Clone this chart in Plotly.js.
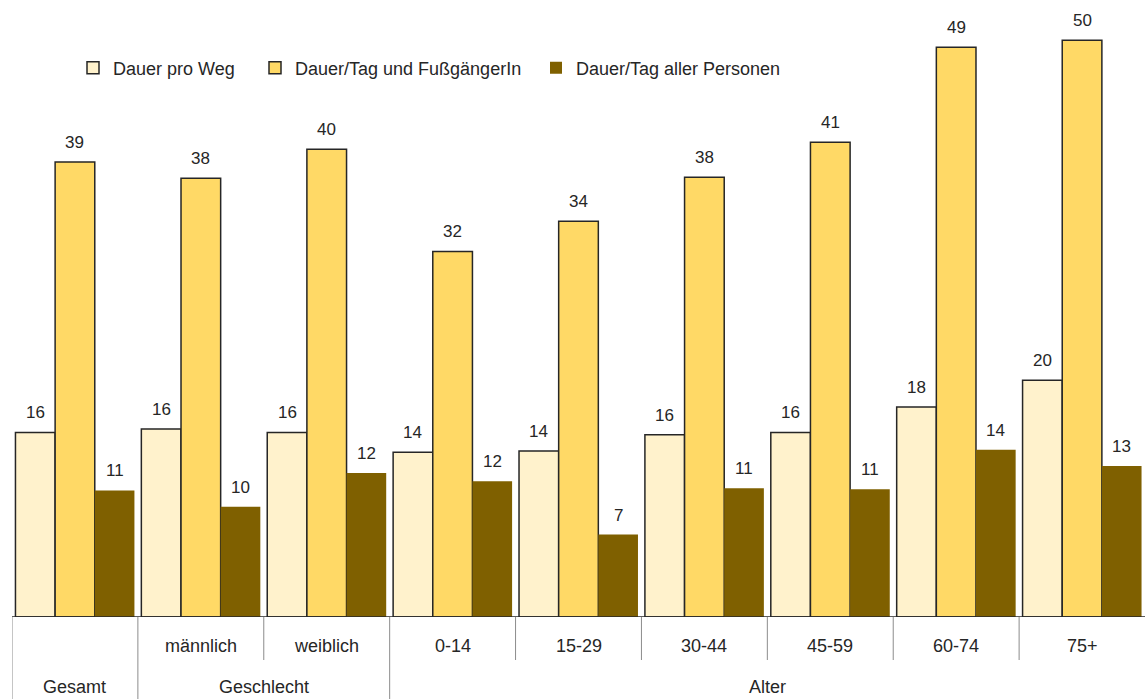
<!DOCTYPE html>
<html>
<head>
<meta charset="utf-8">
<script src="https://cdn.plot.ly/plotly-3.0.1.min.js"></script>
<style>html,body{margin:0;padding:0;background:#fff;}#chart{width:1145px;height:699px;}</style>
</head>
<body>
<div id="chart"></div>
<script>
// ---- data ----
const categories = ["Gesamt", "männlich", "weiblich", "0-14", "15-29", "30-44", "45-59", "60-74", "75+"];
const groupLabels = ["Gesamt", "Geschlecht", "Alter"];
const groupSpans = [[0, 0], [1, 2], [3, 8]];
const subLabels = ["", "männlich", "weiblich", "0-14", "15-29", "30-44", "45-59", "60-74", "75+"];
const seriesNames = ["Dauer pro Weg", "Dauer/Tag und FußgängerIn", "Dauer/Tag aller Personen"];
const dauerProWeg = [15.9, 16.2, 15.9, 14.2, 14.3, 15.7, 15.9, 18.1, 20.4];
const dauerTagFuss = [39.2, 37.8, 40.3, 31.5, 34.1, 37.9, 40.9, 49.1, 49.7];
const dauerTagAlle = [10.9, 9.5, 12.4, 11.7, 7.1, 11.1, 11.0, 14.4, 13.0];
const labelsProWeg = [16, 16, 16, 14, 14, 16, 16, 18, 20];
const labelsTagFuss = [39, 38, 40, 32, 34, 38, 41, 49, 50];
const labelsTagAlle = [11, 10, 12, 12, 7, 11, 11, 14, 13];

// ---- styling ----
const colors = ["#FFF2CC", "#FFD966", "#7F6000"];
const outline = ["#262626", "#262626", "#7F6000"];
const outlineW = [1.5, 1.5, 0];
const FONT = "Liberation Sans, Arial, sans-serif";
const bargap = 0.055;
const barW = (1 - bargap) / 3;
const PLOT_L = 12, PLOT_W = 1133, PLOT_T = 10, PLOT_H = 607;

const values = [dauerProWeg, dauerTagFuss, dauerTagAlle];
const labels = [labelsProWeg, labelsTagFuss, labelsTagAlle];
const legendIds = ["legend", "legend2", "legend3"];

const traces = values.map((v, k) => ({
  type: "bar",
  name: seriesNames[k],
  x: categories,
  y: v,
  marker: {color: colors[k], line: {color: outline[k], width: outlineW[k]}},
  legend: legendIds[k],
  showlegend: true,
  hoverinfo: "x+y+name"
}));

const annotations = [];
labels.forEach((arr, k) => {
  arr.forEach((lab, i) => {
    annotations.push({
      x: i + (k - 1) * barW, y: values[k][i], xref: "x", yref: "y",
      text: String(lab), showarrow: false, yanchor: "bottom", yshift: 8,
      font: {family: FONT, size: 17, color: "#262626"}
    });
  });
});
subLabels.forEach((lab, i) => {
  if (!lab) return;
  annotations.push({
    x: i, y: 0, xref: "x", yref: "paper", text: lab, showarrow: false,
    yanchor: "middle", yshift: -29, font: {family: FONT, size: 18, color: "#262626"}
  });
});
groupLabels.forEach((lab, g) => {
  annotations.push({
    x: (groupSpans[g][0] + groupSpans[g][1]) / 2, y: 0, xref: "x", yref: "paper",
    text: lab, showarrow: false, yanchor: "middle", yshift: -70,
    font: {family: FONT, size: 18, color: "#262626"}
  });
});

const shapes = [];
shapes.push({type: "line", xref: "paper", yref: "y", x0: 0, x1: 1, y0: 0, y1: 0,
  line: {color: "#262626", width: 1.5}, layer: "above"});
const groupStarts = groupSpans.map(s => s[0]);
for (let i = 0; i < categories.length; i++) {
  const full = groupStarts.includes(i);
  shapes.push({type: "line", xref: "x", yref: "paper", ysizemode: "pixel", yanchor: 0,
    x0: i - 0.5, x1: i - 0.5, y0: 0, y1: full ? -82 : -43,
    line: {color: "#8c8c8c", width: 1}});
}

const px2x = px => (px - PLOT_L) / PLOT_W;
const legendBase = {orientation: "h", xref: "paper", yref: "paper", xanchor: "left", yanchor: "middle",
  y: (PLOT_T + PLOT_H - 68) / PLOT_H, bgcolor: "rgba(0,0,0,0)", borderwidth: 0,
  font: {family: FONT, size: 18, color: "#262626"}};

const layout = {
  width: 1145, height: 699,
  margin: {l: PLOT_L, r: 1145 - PLOT_L - PLOT_W, t: PLOT_T, b: 699 - PLOT_T - PLOT_H, autoexpand: false},
  paper_bgcolor: "#ffffff", plot_bgcolor: "#ffffff",
  barmode: "group", bargap: bargap, bargroupgap: 0,
  showlegend: true,
  font: {family: FONT, color: "#262626"},
  xaxis: {type: "category", showticklabels: false, ticks: "", showgrid: false, zeroline: false, showline: false,
    range: [-0.5, categories.length - 0.5]},
  yaxis: {range: [0, 52.3], showticklabels: false, ticks: "", showgrid: false, zeroline: false, showline: false},
  legend: Object.assign({}, legendBase, {x: px2x(73)}),
  legend2: Object.assign({}, legendBase, {x: px2x(255)}),
  legend3: Object.assign({}, legendBase, {x: px2x(536)}),
  annotations: annotations,
  shapes: shapes
};

Plotly.newPlot("chart", traces, layout, {displayModeBar: false, staticPlot: true});
</script>
</body>
</html>
